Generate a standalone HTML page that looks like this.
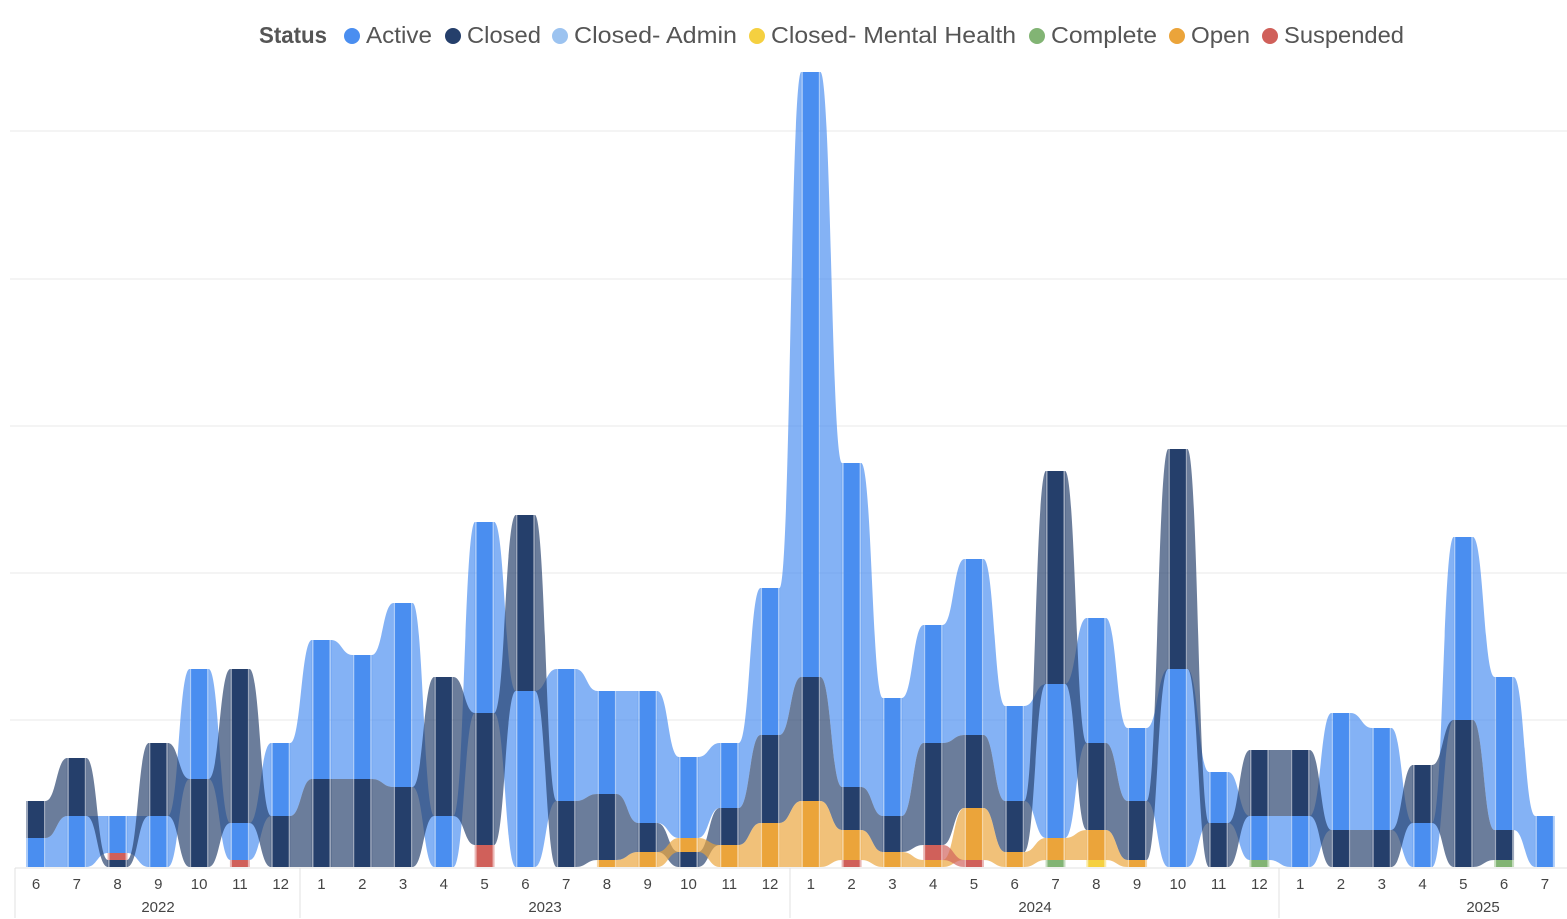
<!DOCTYPE html>
<html><head><meta charset="utf-8"><style>
body{margin:0;background:#fff;}
svg{display:block;font-family:"Liberation Sans",sans-serif;}
</style></head><body>
<svg id="s" width="1567" height="919" xmlns="http://www.w3.org/2000/svg"></svg>
<script>
var S=document.getElementById('s');var h='';
var C={A:'#4a8ef0',C:'#253f6b',O:'#eba43a',R:'#d0605a',P:'#82b474',M:'#f5d040'};
[131,279,426,573,720].forEach(function(y){h+='<line x1="10" x2="1567" y1="'+y+'" y2="'+y+'" stroke="#e8e8e8" stroke-width="1"/>';});
var D=[
[['A',867,838],['C',838,801]],
[['A',867,816],['C',816,758]],
[['C',867,860],['R',860,853],['A',853,816]],
[['A',867,816],['C',816,743]],
[['C',867,779],['A',779,669]],
[['R',867,860],['A',860,823],['C',823,669]],
[['C',867,816],['A',816,743]],
[['C',867,779],['A',779,640]],
[['C',867,779],['A',779,655]],
[['C',867,787],['A',787,603]],
[['A',867,816],['C',816,677]],
[['R',867,845],['C',845,713],['A',713,522]],
[['A',867,691],['C',691,515]],
[['C',867,801],['A',801,669]],
[['O',867,860],['C',860,794],['A',794,691]],
[['O',867,852],['C',852,823],['A',823,691]],
[['C',867,852],['O',852,838],['A',838,757]],
[['O',867,845],['C',845,808],['A',808,743]],
[['O',867,823],['C',823,735],['A',735,588]],
[['O',867,801],['C',801,677],['A',677,72]],
[['R',867,860],['O',860,830],['C',830,787],['A',787,463]],
[['O',867,852],['C',852,816],['A',816,698]],
[['O',867,860],['R',860,845],['C',845,743],['A',743,625]],
[['R',867,860],['O',860,808],['C',808,735],['A',735,559]],
[['O',867,852],['C',852,801],['A',801,706]],
[['P',867,860],['O',860,838],['A',838,684],['C',684,471]],
[['M',867,860],['O',860,830],['C',830,743],['A',743,618]],
[['O',867,860],['C',860,801],['A',801,728]],
[['A',867,669],['C',669,449]],
[['C',867,823],['A',823,772]],
[['P',867,860],['A',860,816],['C',816,750]],
[['A',867,816],['C',816,750]],
[['C',867,830],['A',830,713]],
[['C',867,830],['A',830,728]],
[['A',867,823],['C',823,765]],
[['C',867,720],['A',720,537]],
[['P',867,860],['C',860,830],['A',830,677]],
[['A',867,816]]
];
function X(i){return 36+i*40.78;}
var hw=10;
function find(col,k){for(var j=0;j<col.length;j++)if(col[j][0]==k)return col[j];return null;}
['A','C','O','R','P','M'].forEach(function(k){
 for(var i=0;i<D.length;i++){var a=find(D[i],k);if(!a)continue;
  var x=X(i);
  if(i<D.length-1){var b=find(D[i+1],k);
   if(b){var x1=x+hw,x2=X(i+1)-hw,m=(x1+x2)/2;
    h+='<path d="M'+(x1-0.5)+','+a[2]+' C'+m+','+a[2]+' '+m+','+b[2]+' '+(x2+0.5)+','+b[2]+' L'+(x2+0.5)+','+b[1]+' C'+m+','+b[1]+' '+m+','+a[1]+' '+(x1-0.5)+','+a[1]+'Z" fill="'+C[k]+'" fill-opacity="0.68"/>';}
  }
 }
});
D.forEach(function(col,i){var x=X(i);col.forEach(function(s){
 h+='<rect x="'+(x-hw)+'" y="'+s[2]+'" width="'+(2*hw)+'" height="'+(s[1]-s[2])+'" fill="'+C[s[0]]+'" fill-opacity="0.45"/>';
 h+='<rect x="'+(x-hw+2)+'" y="'+s[2]+'" width="'+(2*hw-4)+'" height="'+(s[1]-s[2])+'" fill="'+C[s[0]]+'"/>';});});
h+='<line x1="15" x2="1567" y1="868" y2="868" stroke="#e0e0e0"/>';
[15,300,790,1279].forEach(function(x){h+='<line x1="'+x+'" x2="'+x+'" y1="868" y2="918" stroke="#e0e0e0"/>';});
var mo=[6,7,8,9,10,11,12,1,2,3,4,5,6,7,8,9,10,11,12,1,2,3,4,5,6,7,8,9,10,11,12,1,2,3,4,5,6,7];
mo.forEach(function(m,i){h+='<text x="'+X(i)+'" y="889" font-size="15" fill="#444" text-anchor="middle">'+m+'</text>';});
[[158,2022],[545,2023],[1035,2024],[1483,2025]].forEach(function(y){h+='<text x="'+y[0]+'" y="912" font-size="15" fill="#444" text-anchor="middle">'+y[1]+'</text>';});
h+='<text x="259" y="43" font-size="23" font-weight="bold" fill="#555" textLength="68" lengthAdjust="spacingAndGlyphs">Status</text>';
[[352,'A','Active',66],[453,'C','Closed',74],[560,'#9cc3f0','Closed- Admin',163],[757,'M','Closed- Mental Health',245],[1037,'P','Complete',106],[1177,'O','Open',59],[1270,'R','Suspended',120]].forEach(function(l){
 var c=C[l[1]]||l[1];h+='<circle cx="'+l[0]+'" cy="36" r="8" fill="'+c+'"/><text x="'+(l[0]+14)+'" y="43" font-size="23" fill="#555" textLength="'+l[3]+'" lengthAdjust="spacingAndGlyphs">'+l[2]+'</text>';});
S.innerHTML=h;
</script>
</body></html>
